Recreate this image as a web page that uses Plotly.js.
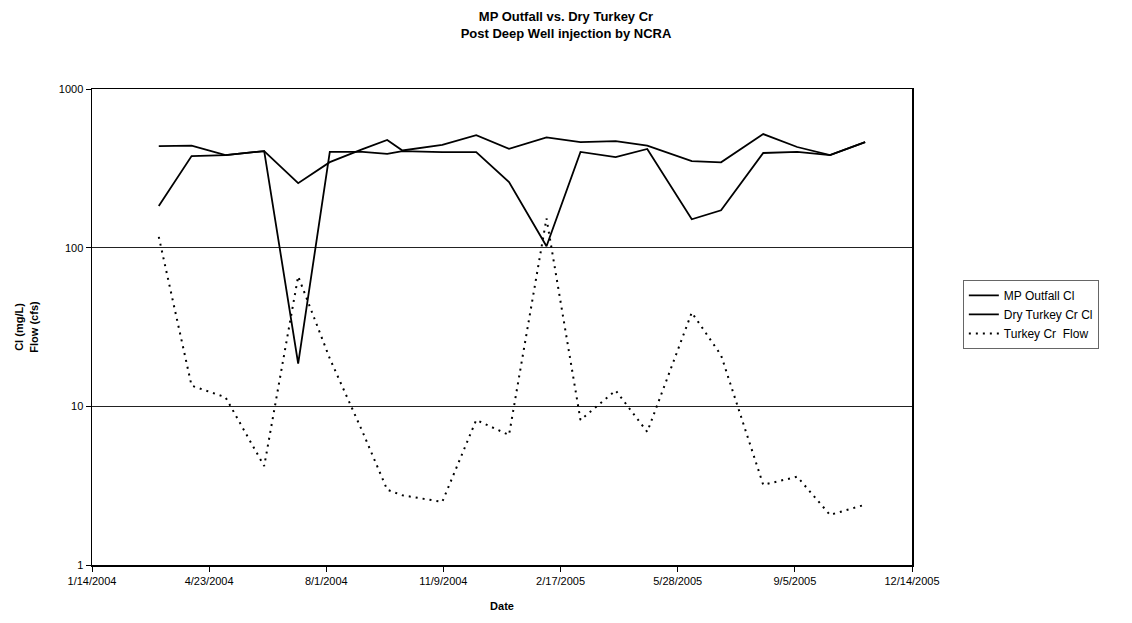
<!DOCTYPE html>
<html>
<head>
<meta charset="utf-8">
<script src="https://cdn.plot.ly/plotly-3.0.1.min.js"></script>
<style>
  html, body { margin: 0; padding: 0; background: #fff; }
  #chart { width: 1132px; height: 623px; }
</style>
</head>
<body>
<div id="chart"></div>
<script>
// Sample dates
const dates = ['2004-03-11','2004-04-08','2004-05-07','2004-06-09','2004-07-08','2004-08-04',
               '2004-09-01','2004-09-22','2004-10-05','2004-11-08','2004-12-07','2005-01-04',
               '2005-02-05','2005-03-06','2005-04-05','2005-05-02','2005-06-09','2005-07-04',
               '2005-08-09','2005-09-07','2005-10-05','2005-11-04'];

// Series values
const mpOutfallCl   = [437, 440, 383, 406, 255, 346, 418, 477, 410, 445, 512, 420,
                       495, 462, 470, 440, 351, 345, 520, 431, 383, 463];
const dryTurkeyCrCl = [183, 378, 383, 406, 18.6, 401, 401, 390, 406, 400, 400, 259,
                       102, 401, 372, 419, 151, 172, 395, 401, 383, 463];
const turkeyCrFlow  = [117, 13.5, 11.4, 4.2, 66, 20, 6.9, 2.98, 2.75, 2.5, 8.2, 6.6,
                       153, 8.2, 12.6, 6.9, 39, 21, 3.2, 3.6, 2.07, 2.4];

// Axis ticks
const xTickVals  = ['2004-01-14','2004-04-23','2004-08-01','2004-11-09','2005-02-17','2005-05-28','2005-09-05','2005-12-14'];
const xTickText  = ['1/14/2004','4/23/2004','8/1/2004','11/9/2004','2/17/2005','5/28/2005','9/5/2005','12/14/2005'];
const yTickVals  = [1, 10, 100, 1000];
const yTickText  = ['1', '10', '100', '1000'];

const FONT = 'Liberation Sans, Arial, sans-serif';

const traces = [
  { x: dates, y: mpOutfallCl, name: 'MP Outfall Cl', type: 'scatter', mode: 'lines',
    line: { color: '#000', width: 1.8 } },
  { x: dates, y: dryTurkeyCrCl, name: 'Dry Turkey Cr Cl', type: 'scatter', mode: 'lines',
    line: { color: '#000', width: 1.8 } },
  { x: dates, y: turkeyCrFlow, name: 'Turkey Cr  Flow', type: 'scatter', mode: 'lines',
    line: { color: '#000', width: 2, dash: '2px,5px' } }
];

const layout = {
  width: 1132, height: 623,
  paper_bgcolor: '#fff', plot_bgcolor: '#fff',
  margin: { l: 92, r: 220, t: 89, b: 58 },
  font: { family: FONT, size: 11, color: '#000' },
  title: {
    text: '<b>MP Outfall vs. Dry Turkey Cr</b><br><b>Post Deep Well injection by NCRA</b>',
    font: { family: FONT, size: 13, color: '#000' },
    x: 0.5, xref: 'container', xanchor: 'center',
    y: 1 - 21/623, yref: 'container', yanchor: 'middle'
  },
  xaxis: {
    type: 'date',
    range: ['2004-01-14', '2005-12-14'],
    tickmode: 'array', tickvals: xTickVals, ticktext: xTickText,
    ticks: 'outside', ticklen: 5, tickcolor: '#000',
    showline: true, linecolor: '#000', linewidth: 1.5, mirror: true,
    showgrid: false, zeroline: false,
    tickfont: { family: FONT, size: 11, color: '#000' },
    title: { text: '<b>Date</b>', font: { family: FONT, size: 11, color: '#000' }, standoff: 16 }
  },
  yaxis: {
    type: 'log',
    range: [0, 3],
    tickmode: 'array', tickvals: yTickVals, ticktext: yTickText,
    ticks: 'outside', ticklen: 5, tickcolor: '#000',
    showline: true, linecolor: '#000', linewidth: 1.5, mirror: true,
    showgrid: true, gridcolor: '#222', gridwidth: 1,
    zeroline: false,
    tickfont: { family: FONT, size: 11, color: '#000' },
    title: { text: '<b>Cl (mg/L)<br>Flow (cfs)</b>', font: { family: FONT, size: 11, color: '#000' }, standoff: 18 }
  },
  showlegend: true,
  legend: {
    x: 1.062, xanchor: 'left', y: 0.599, yanchor: 'top',
    bgcolor: '#fff', bordercolor: '#666', borderwidth: 1,
    font: { family: FONT, size: 12, color: '#000' },
    tracegroupgap: 0, itemwidth: 30
  }
};

Plotly.newPlot('chart', traces, layout, { displayModeBar: false, staticPlot: true });
</script>
</body>
</html>
